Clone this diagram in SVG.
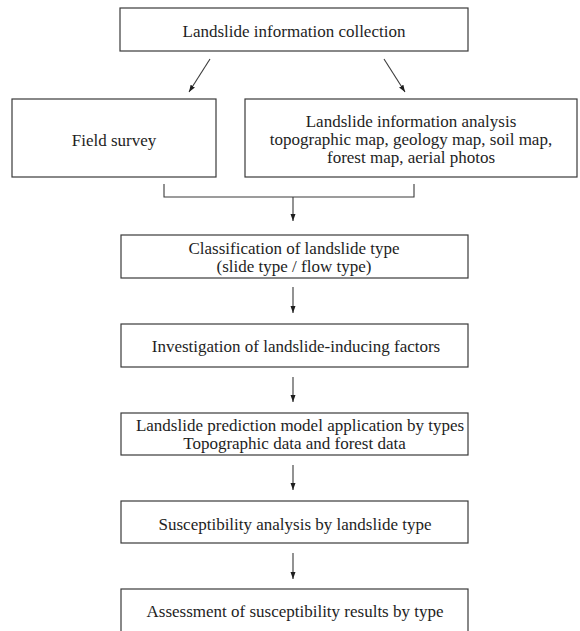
<svg xmlns="http://www.w3.org/2000/svg" width="580" height="631" viewBox="0 0 580 631">
<style>
.box{fill:#ffffff;stroke:#3a3a3a;stroke-width:1.2}
.t{font-family:"Liberation Serif","Times New Roman",serif;font-size:17px;fill:#1e1e1e;text-anchor:middle}
.c{fill:none;stroke:#3a3a3a;stroke-width:1.1}
</style>
<defs>
<marker id="ah" viewBox="0 0 7 6" refX="7" refY="3" markerWidth="7" markerHeight="6" markerUnits="userSpaceOnUse" orient="auto">
<path d="M0,0.5 L7,3 L0,5.5 Z" fill="#1e1e1e"/>
</marker>
</defs>
<rect width="580" height="631" fill="#ffffff"/>
<g id="n1"><rect class="box" x="120" y="8" width="348" height="43"/><text class="t" x="294" y="37">Landslide information collection</text></g>
<g id="n2"><rect class="box" x="12" y="99" width="204" height="78"/><text class="t" x="114" y="146">Field survey</text></g>
<g id="n3"><rect class="box" x="245" y="99" width="332" height="78"/><text class="t" x="411" y="127">Landslide information analysis</text><text class="t" x="411" y="145">topographic map, geology map, soil map,</text><text class="t" x="411" y="163">forest map, aerial photos</text></g>
<g id="n4"><rect class="box" x="121" y="235" width="347" height="43"/><text class="t" x="294" y="254">Classification of landslide type</text><text class="t" x="294" y="272">(slide type / flow type)</text></g>
<g id="n5"><rect class="box" x="121" y="324" width="347" height="43"/><text class="t" x="296" y="352">Investigation of landslide-inducing factors</text></g>
<g id="n6"><rect class="box" x="121" y="413" width="347" height="42"/><text class="t" x="300" y="431">Landslide prediction model application by types</text><text class="t" x="294.5" y="449">Topographic data and forest data</text></g>
<g id="n7"><rect class="box" x="121" y="501" width="347" height="42"/><text class="t" x="295" y="530">Susceptibility analysis by landslide type</text></g>
<g id="n8"><rect class="box" x="121" y="589" width="347" height="60"/><text class="t" x="295" y="617">Assessment of susceptibility results by type</text></g>
<g id="connectors">
<line class="c" x1="210" y1="59" x2="189" y2="92" marker-end="url(#ah)"/>
<line class="c" x1="384" y1="59" x2="405" y2="92" marker-end="url(#ah)"/>
<path class="c" d="M164,184 V197 H414 V184"/>
<line class="c" x1="293" y1="197" x2="293" y2="221" marker-end="url(#ah)"/>
<line class="c" x1="293" y1="287" x2="293" y2="313" marker-end="url(#ah)"/>
<line class="c" x1="293" y1="377" x2="293" y2="402" marker-end="url(#ah)"/>
<line class="c" x1="293" y1="465" x2="293" y2="490" marker-end="url(#ah)"/>
<line class="c" x1="293" y1="553" x2="293" y2="579" marker-end="url(#ah)"/>
</g>
</svg>
